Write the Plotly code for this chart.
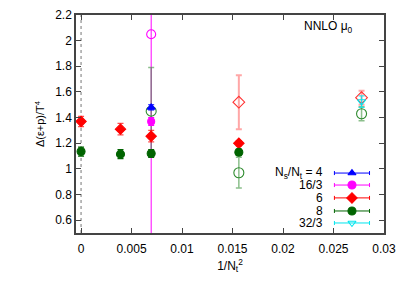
import plotly.graph_objects as go

# ---- data ----
# filled symbols
a4_x = [1/144]; a4_y = [1.48]; a4_e = [0.02]
a163_x = [1/144]; a163_y = [1.37]; a163_e = [0.03]
a6_x = [0, 1/256, 1/144, 1/64]; a6_y = [1.37, 1.31, 1.255, 1.20]; a6_e = [0.04, 0.045, 0.045, 0.02]
a8_x = [0, 1/256, 1/144, 1/64]; a8_y = [1.135, 1.115, 1.12, 1.13]; a8_e = [0.035, 0.035, 0.03, 0.025]
# open symbols
o163_x = [1/144]; o163_y = [2.05]; o163_e = [1.6]
o6_x = [1/64, 1/36]; o6_y = [1.52, 1.555]; o6_e = [0.21, 0.055]
o8_x = [1/144, 1/64, 1/36]; o8_y = [1.45, 0.97, 1.43]; o8_e = [0.34, 0.12, 0.055]
o323_x = [1/36]; o323_y = [1.525]; o323_e = [0.045]

legend_labels = ["N<sub>s</sub>/N<sub>t</sub> = 4", "16/3", "6", "8", "32/3"]
legend_colors = ["#0000ff", "#ff00ff", "#ff0000", "#006400", "#00e5ee"]
legend_symbols = ["triangle-up", "circle", "diamond", "circle", "triangle-down-open"]

FONT = "Liberation Sans, Arial, sans-serif"
fig = go.Figure()

def add(x, y, e, color, symbol, size, ecolor, lw=1.2):
    fig.add_trace(go.Scatter(
        x=x, y=y, mode="markers",
        marker=dict(color=color, symbol=symbol, size=size, line=dict(color=color, width=1.1)),
        error_y=dict(type="data", array=e, color=ecolor, thickness=lw, width=3),
        showlegend=False))

# open symbols first (behind)
add(o163_x, o163_y, o163_e, "#ff00ff", "circle-open", 9, "#ff00ff", 1.0)
add(o8_x, o8_y, o8_e, "#2e8b2e", "circle-open", 10, "rgba(46,139,46,0.55)", 1.5)
add(o6_x, o6_y, o6_e, "#ff3030", "diamond-open", 9, "rgba(255,60,60,0.45)", 2)
add(o323_x, o323_y, o323_e, "#00e5ee", "triangle-down-open", 7, "rgba(0,229,238,0.8)", 1.2)
# filled symbols
add(a4_x, a4_y, a4_e, "#0000ff", "triangle-up", 7, "#0000ff")
add(a163_x, a163_y, a163_e, "#ff00ff", "circle", 7, "#ff00ff")
add(a6_x, a6_y, a6_e, "#ff0000", "diamond", 8, "rgba(255,0,0,0.7)")
add(a8_x, a8_y, a8_e, "#006400", "circle", 8, "#006400")

# custom legend (text left, sample right) on an overlay axis
ys = [0.275, 0.22, 0.161, 0.101, 0.046]
for lab, col, sym, yy in zip(legend_labels, legend_colors, legend_symbols, ys):
    fig.add_trace(go.Scatter(
        x=[0.896], y=[yy], mode="markers", xaxis="x2", yaxis="y2",
        marker=dict(color=col, symbol=sym, size=7 if "triangle" in sym else 8,
                    line=dict(color=col, width=1.1)),
        error_x=dict(type="constant", value=0.057, color=col, thickness=1, width=2),
        showlegend=False, hoverinfo="skip"))
    fig.add_annotation(x=0.81, y=yy, xref="x2", yref="y2", text=lab, showarrow=False,
                       xanchor="right", yanchor="middle",
                       font=dict(family=FONT, size=12, color="black"))

fig.add_shape(type="line", x0=0, x1=0, xref="x", y0=0, y1=1, yref="paper",
              line=dict(color="#777777", width=1, dash="dot"), layer="below")

fig.add_annotation(x=0.905, y=0.945, xref="paper", yref="paper", text="NNLO μ<sub>0</sub>",
                   showarrow=False, xanchor="right", yanchor="middle",
                   font=dict(family=FONT, size=12, color="black"))

axcommon = dict(showgrid=False, zeroline=False, showline=True, linecolor="#444444",
                linewidth=1.5, mirror="ticks", ticks="inside", ticklen=5, tickcolor="#444444",
                automargin=False,
                tickfont=dict(family=FONT, size=12, color="black"))

# page body has an 8px margin; compensate so the plot area lands at the reference position
fig.update_layout(
    width=401, height=278,
    margin=dict(l=68, r=25, t=7, b=53),
    paper_bgcolor="white", plot_bgcolor="white",
    xaxis=dict(range=[-0.0005, 0.03], tickvals=[0, 0.005, 0.01, 0.015, 0.02, 0.025, 0.03],
               ticktext=["0", "0.005", "0.01", "0.015", "0.02", "0.025", "0.03"],
               title=dict(text="1/N<sub>t</sub><sup>2</sup>", standoff=6,
                          font=dict(family=FONT, size=12, color="black")),
               ticklabelstandoff=4,
               **axcommon),
    yaxis=dict(range=[0.5, 2.2], tickvals=[0.6, 0.8, 1, 1.2, 1.4, 1.6, 1.8, 2, 2.2],
               ticktext=["0.6", "0.8", "1", "1.2", "1.4", "1.6", "1.8", "2", "2.2"],
               title=dict(text="Δ(ε+p)/T<sup>4</sup>", standoff=8,
                          font=dict(family=FONT, size=11, color="black")),
               **axcommon),
    xaxis2=dict(overlaying="x", range=[0, 1], visible=False, anchor="y2"),
    yaxis2=dict(overlaying="y", range=[0, 1], visible=False, anchor="x2"),
    showlegend=False,
)

fig.write_html("out.html")
